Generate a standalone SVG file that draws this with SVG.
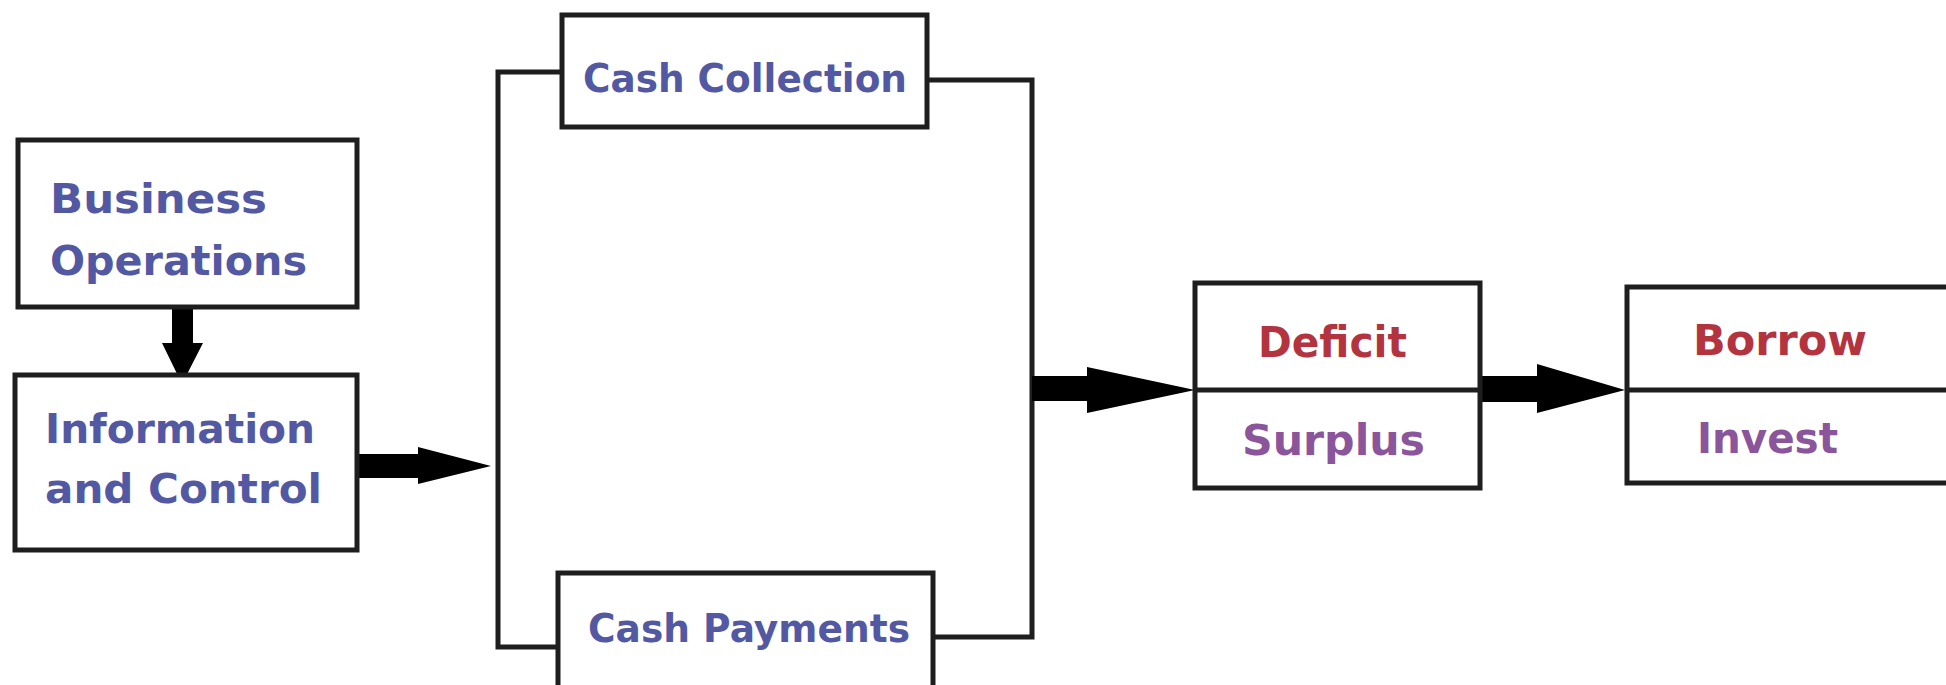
<svg xmlns="http://www.w3.org/2000/svg" width="1946" height="685" viewBox="0 0 1946 685">
<style>
.box{fill:#fff;stroke:#1e1e1e;stroke-width:5}
.ln{fill:none;stroke:#1e1e1e;stroke-width:5;stroke-linejoin:miter}
.arr{fill:#000;stroke:none}
.t{font-family:"DejaVu Sans",Verdana,sans-serif;font-weight:bold;font-size:40px}
.c{font-size:39px}
.b{fill:#5358a2}
.r{fill:#b3343f;font-size:42px}
.p{fill:#8a559b;font-size:42px}
</style>
<rect width="1946" height="685" fill="#fff"/>
<g id="connectors">
<path class="ln" d="M562,72 H498 V647 H558"/>
<path class="ln" d="M927,80 H1032 V637 H933"/>
<polygon class="arr" points="172,307 193,307 193,343 203,343 182,384 162,343 172,343"/>
<polygon class="arr" points="357,454 418,454 418,447 491,466 418,484 418,478 357,478"/>
<polygon class="arr" points="1032,376 1087,376 1087,367 1195,390 1087,413 1087,401 1032,401"/>
<polygon class="arr" points="1480,376 1537,376 1537,364 1625,390 1537,413 1537,402 1480,402"/>
</g>
<g id="business-operations">
<rect class="box" x="18" y="140" width="339" height="167"/>
<text class="t b" x="50" y="213" textLength="217" lengthAdjust="spacingAndGlyphs">Business</text>
<text class="t b" x="50" y="275" textLength="257" lengthAdjust="spacingAndGlyphs">Operations</text>
</g>
<g id="information-control">
<rect class="box" x="15" y="375" width="342" height="175"/>
<text class="t b" x="45" y="443" textLength="270" lengthAdjust="spacingAndGlyphs">Information</text>
<text class="t b" x="45" y="503" textLength="277" lengthAdjust="spacingAndGlyphs">and Control</text>
</g>
<g id="cash-collection">
<rect class="box" x="562" y="15" width="365" height="112"/>
<text class="t b c" x="583" y="92" textLength="324" lengthAdjust="spacingAndGlyphs">Cash Collection</text>
</g>
<g id="cash-payments">
<rect class="box" x="558" y="573" width="375" height="130"/>
<text class="t b c" x="588" y="642" textLength="322" lengthAdjust="spacingAndGlyphs">Cash Payments</text>
</g>
<g id="deficit-surplus">
<rect class="box" x="1195" y="283" width="285" height="205"/>
<line class="ln" x1="1195" y1="390" x2="1480" y2="390"/>
<text class="t r" x="1258" y="357" textLength="149" lengthAdjust="spacingAndGlyphs">Deficit</text>
<text class="t p" x="1242" y="455" textLength="183" lengthAdjust="spacingAndGlyphs">Surplus</text>
</g>
<g id="borrow-invest">
<rect class="box" x="1627" y="287" width="340" height="196"/>
<line class="ln" x1="1627" y1="390" x2="1967" y2="390"/>
<text class="t r" x="1693" y="355" textLength="174" lengthAdjust="spacingAndGlyphs">Borrow</text>
<text class="t p" x="1697" y="453" textLength="141" lengthAdjust="spacingAndGlyphs">Invest</text>
</g>
</svg>
